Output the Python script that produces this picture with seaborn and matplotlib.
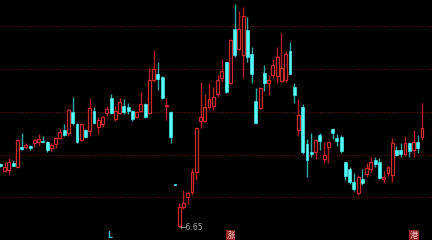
import numpy as np
import pandas as pd
import seaborn as sns
import matplotlib
matplotlib.use("Agg")
import matplotlib.pyplot as plt

# ---- data (prices) ----
opens = [7.28, 7.21, 7.22, 7.29, 7.25, 7.45, 7.45, 7.46, 7.49, 7.50,
         7.51, 7.50, 7.44, 7.48, 7.54, 7.62, 7.59, 7.80, 7.68, 7.52,
         7.62, 7.61, 7.81, 7.65, 7.68, 7.79, 7.94, 7.73, 7.79, 7.86,
         7.85, 7.81, 7.75, 7.81, 7.88, 7.79, 8.12, 8.18, 8.15, 7.86,
         7.80, 7.08, 6.66, 6.85, 6.95, 7.00, 7.20, 7.71, 7.71, 7.85,
         7.86, 7.98, 8.14, 8.30, 8.09, 8.63, 8.43, 8.37, 8.62, 8.38,
         7.91, 7.84, 8.19, 8.09, 8.17, 8.16, 8.11, 8.12, 8.41, 8.05,
         7.62, 7.85, 7.48, 7.40, 7.40, 7.57, 7.33, 7.45, 7.63, 7.54,
         7.55, 7.30, 7.23, 7.10, 6.99, 7.13, 7.18, 7.23, 7.32, 7.30,
         7.13, 7.19, 7.17, 7.42, 7.42, 7.38, 7.49, 7.42, 7.50, 7.55]
closes = [7.26, 7.25, 7.30, 7.26, 7.52, 7.43, 7.47, 7.44, 7.52, 7.53,
          7.50, 7.42, 7.47, 7.54, 7.60, 7.57, 7.82, 7.69, 7.50, 7.68,
          7.55, 7.84, 7.69, 7.72, 7.75, 7.83, 7.79, 7.81, 7.90, 7.80,
          7.81, 7.73, 7.80, 7.88, 7.75, 8.12, 8.23, 8.13, 7.94, 7.87,
          7.55, 7.07, 6.85, 6.89, 6.99, 7.20, 7.64, 7.75, 7.85, 7.93,
          7.95, 8.12, 8.21, 8.00, 8.52, 8.37, 8.63, 8.76, 8.35, 8.18,
          7.69, 8.04, 8.09, 8.12, 8.27, 8.35, 8.24, 8.38, 8.18, 7.97,
          7.77, 7.40, 7.32, 7.38, 7.52, 7.51, 7.37, 7.50, 7.59, 7.51,
          7.41, 7.16, 7.10, 7.03, 7.15, 7.09, 7.24, 7.30, 7.28, 7.14,
          7.15, 7.25, 7.49, 7.37, 7.38, 7.49, 7.41, 7.50, 7.44, 7.64]
highs = [7.29, 7.30, 7.34, 7.32, 7.53, 7.59, 7.49, 7.47, 7.53, 7.58,
         7.56, 7.51, 7.49, 7.55, 7.63, 7.68, 7.83, 7.95, 7.69, 7.69,
         7.63, 7.94, 7.85, 7.75, 7.76, 7.86, 7.98, 7.86, 7.94, 7.93,
         7.89, 7.82, 7.81, 8.00, 7.89, 8.24, 8.42, 8.30, 8.16, 7.94,
         7.81, 7.08, 6.89, 7.02, 7.01, 7.24, 7.64, 8.10, 7.98, 8.09,
         8.05, 8.17, 8.33, 8.30, 8.53, 8.88, 8.81, 8.85, 8.75, 8.45,
         8.04, 8.05, 8.27, 8.17, 8.33, 8.45, 8.59, 8.41, 8.50, 8.09,
         7.93, 7.88, 7.53, 7.59, 7.53, 7.59, 7.50, 7.50, 7.64, 7.58,
         7.57, 7.30, 7.25, 7.19, 7.17, 7.23, 7.29, 7.35, 7.35, 7.34,
         7.21, 7.26, 7.54, 7.46, 7.49, 7.56, 7.50, 7.62, 7.57, 7.89]
lows = [7.25, 7.20, 7.17, 7.26, 7.25, 7.42, 7.43, 7.42, 7.45, 7.46,
        7.50, 7.40, 7.41, 7.44, 7.53, 7.56, 7.56, 7.67, 7.49, 7.51,
        7.54, 7.56, 7.68, 7.58, 7.65, 7.76, 7.78, 7.71, 7.78, 7.78,
        7.78, 7.71, 7.74, 7.80, 7.74, 7.78, 8.10, 8.02, 7.93, 7.72,
        7.49, 7.07, 6.65, 6.83, 6.88, 6.97, 7.12, 7.64, 7.70, 7.83,
        7.82, 7.95, 8.10, 7.99, 8.08, 8.35, 8.42, 8.14, 8.30, 8.09,
        7.69, 7.83, 8.01, 7.97, 8.14, 8.09, 8.10, 8.10, 8.18, 7.89,
        7.56, 7.38, 7.15, 7.35, 7.33, 7.42, 7.29, 7.29, 7.53, 7.46,
        7.39, 7.12, 7.08, 7.01, 6.97, 7.07, 7.15, 7.20, 7.25, 7.13,
        7.09, 7.16, 7.10, 7.36, 7.35, 7.36, 7.35, 7.35, 7.39, 7.52]
grid_levels = [8.66, 8.23, 7.80, 7.37, 6.95]
bottom_labels = ["L", "涨", "港"]

df = pd.DataFrame({"open": opens, "close": closes, "high": highs, "low": lows})
df["idx"] = np.arange(len(df))
df["up"] = df["close"] >= df["open"]

sns.set_theme(style="dark")
plt.rcParams["font.family"] = ["DejaVu Sans", "Noto Sans CJK SC"]

RED = "#cc2a2a"
RED_WICK = "#b02020"
CYAN = "#54fcfc"
CYAN_WICK = "#2fa8a8"

fig = plt.figure(figsize=(4.32, 2.40), dpi=100, facecolor="black")
ax = fig.add_axes([0, 0, 1, 1])
ax.set_facecolor("black")

up = df[df["up"]]
dn = df[~df["up"]]

# wicks
ax.vlines(up["idx"], up["low"], up["high"], color=RED_WICK, lw=1.0, zorder=2)
ax.vlines(dn["idx"], dn["low"], dn["high"], color=CYAN_WICK, lw=1.0, zorder=2)

# bodies
w = 0.68
ax.bar(up["idx"], (up["close"] - up["open"]).clip(lower=0.012), bottom=up["open"],
       width=w, facecolor="black", edgecolor=RED, linewidth=0.9, zorder=3)
ax.bar(dn["idx"], (dn["open"] - dn["close"]).clip(lower=0.012), bottom=dn["close"],
       width=w, facecolor=CYAN, edgecolor=CYAN, linewidth=0.4, zorder=3)

# dotted grid
ax.set_yticks(grid_levels)
ax.yaxis.grid(True, color="#6b0a0a", linestyle=(0, (1, 1.5)), linewidth=0.8)
ax.xaxis.grid(False)
ax.set_xticks([])
ax.tick_params(left=False, labelleft=False)
for s in ax.spines.values():
    s.set_visible(False)

ax.set_xlim(-0.07, 101.34)
ax.set_ylim(6.52, 8.92)

# low annotation
i_low = int(np.argmin(lows))
ax.text(i_low + 0.05, lows[i_low], "\u2190" + f"{lows[i_low]:.2f}", color="#a8a8a8",
        fontsize=5.6, va="center", ha="left", zorder=5)

# bottom labels
fig.text(110 / 432, 1 - 235 / 240, bottom_labels[0], color="#3cc8d0", fontsize=5.5,
         fontweight="bold", ha="center", va="center")
for lab, px in zip(bottom_labels[1:], [230.5, 414]):
    fig.text(px / 432, 1 - 235.5 / 240, lab, color="#f0c8c8", fontsize=6.0,
             family=["Noto Sans CJK SC"], ha="center", va="center",
             bbox=dict(boxstyle="square,pad=0.08", facecolor="#8e2020", edgecolor="none"))

fig.savefig("out.png", dpi=100, facecolor="black")
